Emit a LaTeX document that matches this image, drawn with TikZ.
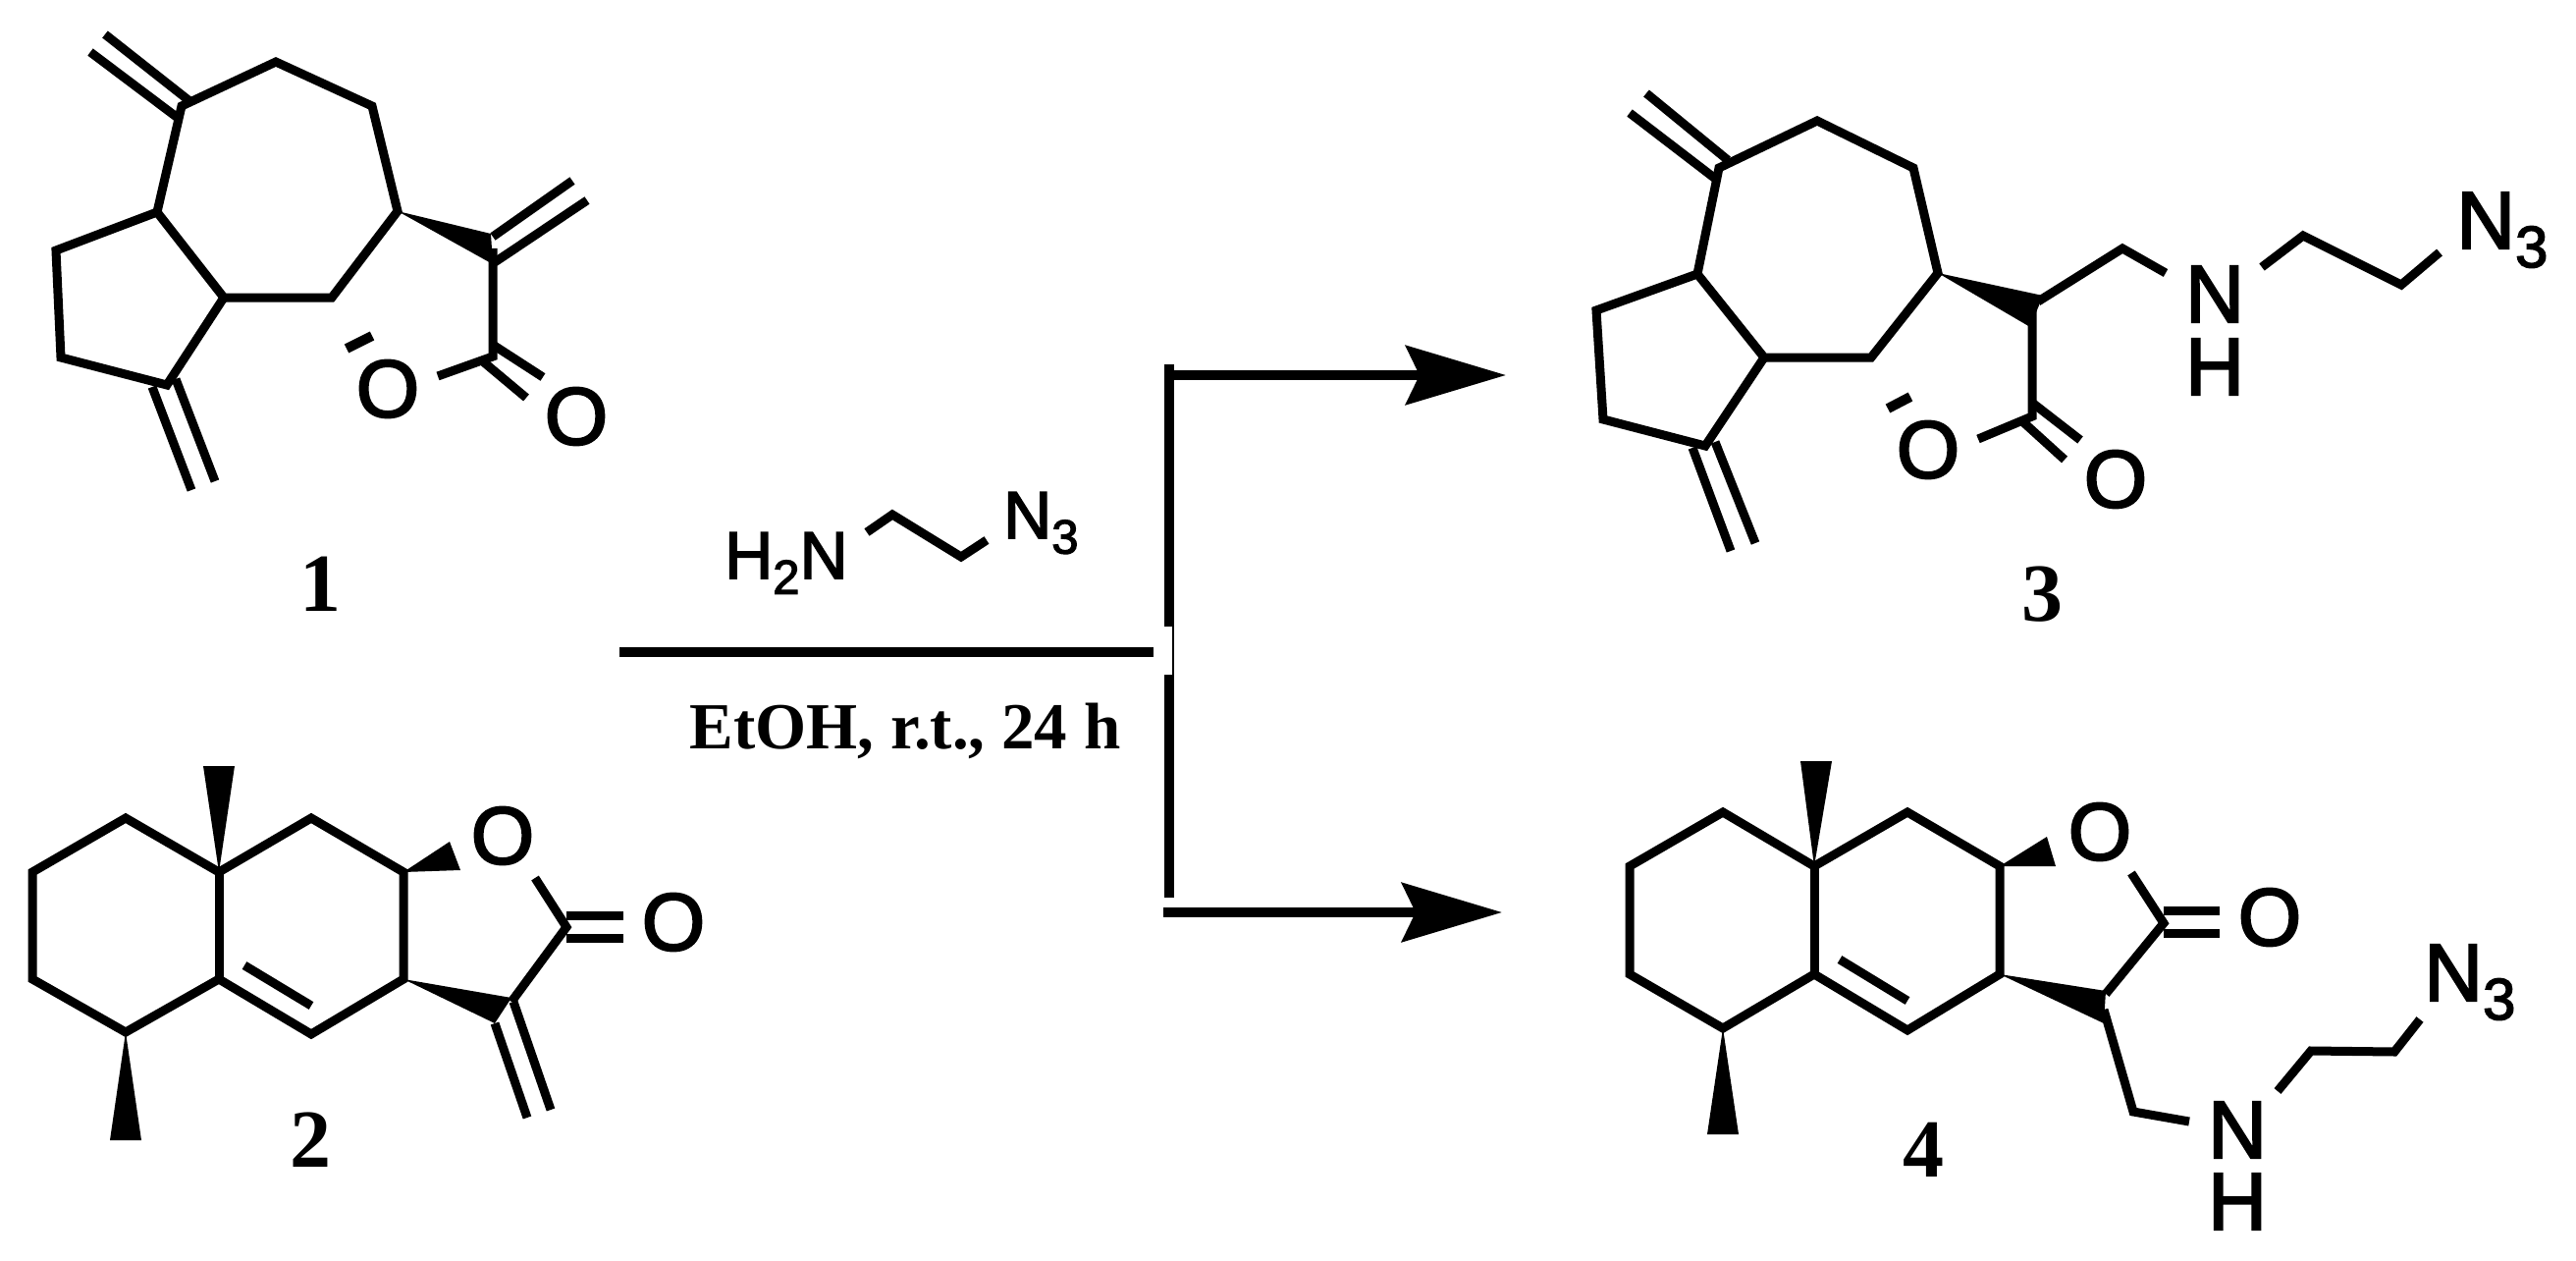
\documentclass[tikz,border=0pt]{standalone}
\usepackage{fontspec}
\setmainfont{Liberation Serif}
\setsansfont{Liberation Sans}[FakeBold=2.5]
\usetikzlibrary{arrows.meta}
\newcommand{\chemsub}[1]{\raisebox{-.23em}{\scalebox{.72}{#1}}}
\tikzset{
  bond/.style={line width=9pt,line join=miter,line cap=butt,draw=black},
  rline/.style={line width=9.5pt,line cap=butt,draw=black},
  wedgefill/.style={fill=black},
  atom/.style={inner sep=0pt,font=\fontsize{83}{83}\selectfont\sffamily,text=black},
  reagent/.style={inner sep=0pt,font=\fontsize{68}{68}\selectfont\sffamily,text=black},
  cpd/.style={inner sep=0pt,anchor=base,font=\fontsize{84}{84}\selectfont\rmfamily\bfseries,text=black},
  cond/.style={inner sep=0pt,anchor=base,font=\fontsize{67}{67}\selectfont\rmfamily\bfseries,text=black},
  rarrow/.style={rline,-{Stealth[length=102pt,width=60pt,inset=14pt]}}
}
\begin{document}
\begin{tikzpicture}[x=1pt,y=-1pt]
\useasboundingbox[fill=white] (0,0) rectangle (2624,1284);
% ---- molecule 1
\foreach \n/\x/\y in {a1/185/108,a2/281/63,a3/379/108,a4/405/215,a5/338/303,a6/228/303,a7/160/216,
  a8/57/255,a9/62/364,a10/170/392,
  a1p/107/35,a1q/192/102,a1r/92/53,a1s/181/120,
  a10p/155/394,a10q/195/499,a10r/179/386,a10s/219/490,
  w1a/500/238,w1b/502/269,
  c1/502/253,c1a/502/241,c1b/583/184,c1c/504/267,c1d/598/204,
  d1/502/363,d1e/446/383,d1a/502/351,d1b/553/384,d1c/493/369,d1d/536/405,
  h1a/353/355,h1b/379/342}
  \coordinate (\n) at (\x,\y);
\draw[bond] (a1) -- (a2) -- (a3) -- (a4) -- (a5) -- (a6) -- (a7) -- cycle;
\draw[bond] (a7) -- (a8) -- (a9) -- (a10) -- (a6);
\draw[bond] (a1p) -- (a1q); \draw[bond] (a1r) -- (a1s);
\draw[bond] (a10p) -- (a10q); \draw[bond] (a10r) -- (a10s);
\fill[wedgefill] (a4) -- (w1a) -- (w1b) -- cycle;
\draw[bond] (c1a) -- (c1b); \draw[bond] (c1c) -- (c1d);
\draw[bond] (c1) -- (d1) -- (d1e);
\draw[bond] (d1a) -- (d1b); \draw[bond] (d1c) -- (d1d);
\draw[bond,line width=10pt] (h1a) -- (h1b);
\node[atom] (o1r) at (395,396) {O};
\node[atom] (o1c) at (587,424) {O};
\node[cpd] (n1) at (326,622) {1};
% ---- molecule 2
\foreach \n/\x/\y in {b1/33/888,b2/128/833,b3/223/888,b4/317/833,b5/411/888,b6/411/997,b7/317/1053,b8/223/997,b9/128/1051,b10/33/997,
  b3a/207/780,b3b/239/780,b9a/112/1161,b9b/144/1161,
  b5a/458/857,b5b/469/886,
  e1/545/894,e2/577/944,e3a/577/932,e3b/635/932,e4a/577/955,e4b/635/955,e5/521/1020,
  b6a/521/1016,b6b/504/1042,
  e6a/523/1020,e6b/561/1130,e7a/504/1042,e7b/537/1138,
  b8a/249/983,b7a/317/1024}
  \coordinate (\n) at (\x,\y);
\draw[bond] (b1) -- (b2) -- (b3) -- (b4) -- (b5) -- (b6) -- (b7) -- (b8) -- (b9) -- (b10) -- cycle;
\draw[bond] (b3) -- (b8);
\draw[bond] (b8a) -- (b7a);
\fill[wedgefill] (b3) -- (b3a) -- (b3b) -- cycle;
\fill[wedgefill] (b9) -- (b9a) -- (b9b) -- cycle;
\fill[wedgefill] (b5) -- (b5a) -- (b5b) -- cycle;
\fill[wedgefill] (b6) -- (b6a) -- (b6b) -- cycle;
\draw[bond] (e1) -- (e2) -- (e5);
\draw[bond] (e3a) -- (e3b); \draw[bond] (e4a) -- (e4b);
\draw[bond] (e6a) -- (e6b); \draw[bond] (e7a) -- (e7b);
\node[atom] (o2r) at (512,851) {O};
\node[atom] (o2c) at (686,939) {O};
\node[cpd] (n2) at (316,1188) {2};
% ---- reaction arrows and reagent
\foreach \n/\x/\y in {r1/631/664,r2/1175/664,v1/1191/371,v2/1191/638,v3/1195/638,v4/1195/687,v5/1191/687,v6/1191/914,
  t1/1195/382,t2/1534/382,u1/1185/929,u2/1530/929,
  k1/883/542,k2/909/524,k3/979/567,k4/1005/550}
  \coordinate (\n) at (\x,\y);
\draw[rline] (r1) -- (r2);
\draw[rline] (v1) -- (v2);
\draw[line width=1.2pt,draw=black] (v3) -- (v4);
\draw[rline] (v5) -- (v6);
\draw[rarrow] (t1) -- (t2);
\draw[rarrow] (u1) -- (u2);
\draw[bond] (k1) -- (k2) -- (k3) -- (k4);
\node[reagent,anchor=base west] (h2n) at (738,589) {H\chemsub{2}N};
\node[reagent,anchor=base west] (n3r) at (1022,548) {N\chemsub{3}};
\node[cond] (etoh) at (922,762) {EtOH, r.t., 24 h};
% ---- molecule 3
\foreach \n/\x/\y in {f1/1751/171,f2/1851/123,f3/1949/171,f4/1974/278,f5/1906/364,f6/1797/364,f7/1729/279,
  f8/1626/316,f9/1633/427,f10/1737/454,
  f1p/1677/95,f1q/1760/163,f1r/1660/115,f1s/1750/184,
  f10p/1724/456,f10q/1763/561,f10r/1747/450,f10s/1788/553,
  w3a/2081/301,w3b/2068/333,
  g0/2070/316,g1/2070/424,g2/2015/447,g3a/2070/410,g3b/2119/448,g4a/2060/429,g4b/2103/468,
  g5/2076/307,g6/2162/253,g7/2206/278,g8/2304/272,g9/2346/240,g10/2446/290,g11/2485/257,
  h3a/1923/416,h3b/1946/404}
  \coordinate (\n) at (\x,\y);
\draw[bond] (f1) -- (f2) -- (f3) -- (f4) -- (f5) -- (f6) -- (f7) -- cycle;
\draw[bond] (f7) -- (f8) -- (f9) -- (f10) -- (f6);
\draw[bond] (f1p) -- (f1q); \draw[bond] (f1r) -- (f1s);
\draw[bond] (f10p) -- (f10q); \draw[bond] (f10r) -- (f10s);
\fill[wedgefill] (f4) -- (w3a) -- (w3b) -- cycle;
\draw[bond] (g0) -- (g1) -- (g2);
\draw[bond] (g3a) -- (g3b); \draw[bond] (g4a) -- (g4b);
\draw[bond] (g5) -- (g6) -- (g7);
\draw[bond] (g8) -- (g9) -- (g10) -- (g11);
\draw[bond,line width=10pt] (h3a) -- (h3b);
\node[atom] (o3r) at (1964,458) {O};
\node[atom] (o3c) at (2155,488) {O};
\node[atom,anchor=base] (n3n) at (2256,328) {N};
\node[atom,anchor=base] (n3h) at (2256,402) {H};
\node[atom,anchor=base west] (n33) at (2502,253) {N\chemsub{3}};
\node[cpd] (n3) at (2080,632) {3};
% ---- molecule 4
\foreach \n/\x/\y in {m1/1660/882,m2/1755/827,m3/1848/882,m4/1943/827,m5/2037/882,m6/2037/992,m7/1943/1049,m8/1848/992,m9/1755/1047,m10/1660/992,
  m3a/1834/775,m3b/1866/775,m9a/1739/1155,m9b/1771/1155,
  m5a/2085/852,m5b/2094/882,
  p1/2171/889,p2/2204/940,p3a/2204/927,p3b/2261/927,p4a/2204/950,p4b/2261/950,p5/2145/1012,
  m6a/2145/1009,m6b/2143/1042,
  q1/2143/1028,q2/2173/1132,q3/2230/1142,q4/2320/1111,q5/2354/1070,q6/2439/1071,q7/2465/1038,
  m8a/1874/977,m7a/1943/1019}
  \coordinate (\n) at (\x,\y);
\draw[bond] (m1) -- (m2) -- (m3) -- (m4) -- (m5) -- (m6) -- (m7) -- (m8) -- (m9) -- (m10) -- cycle;
\draw[bond] (m3) -- (m8);
\draw[bond] (m8a) -- (m7a);
\fill[wedgefill] (m3) -- (m3a) -- (m3b) -- cycle;
\fill[wedgefill] (m9) -- (m9a) -- (m9b) -- cycle;
\fill[wedgefill] (m5) -- (m5a) -- (m5b) -- cycle;
\fill[wedgefill] (m6) -- (m6a) -- (m6b) -- cycle;
\draw[bond] (p1) -- (p2) -- (p5);
\draw[bond] (p3a) -- (p3b); \draw[bond] (p4a) -- (p4b);
\draw[bond] (q1) -- (q2) -- (q3);
\draw[bond] (q4) -- (q5) -- (q6) -- (q7);
\node[atom] (o4r) at (2139,847) {O};
\node[atom] (o4c) at (2312,934) {O};
\node[atom,anchor=base] (n4n) at (2279,1179) {N};
\node[atom,anchor=base] (n4h) at (2279,1252) {H};
\node[atom,anchor=base west] (n43) at (2469,1019) {N\chemsub{3}};
\node[cpd] (n4) at (1959,1198) {4};
\end{tikzpicture}
\end{document}
